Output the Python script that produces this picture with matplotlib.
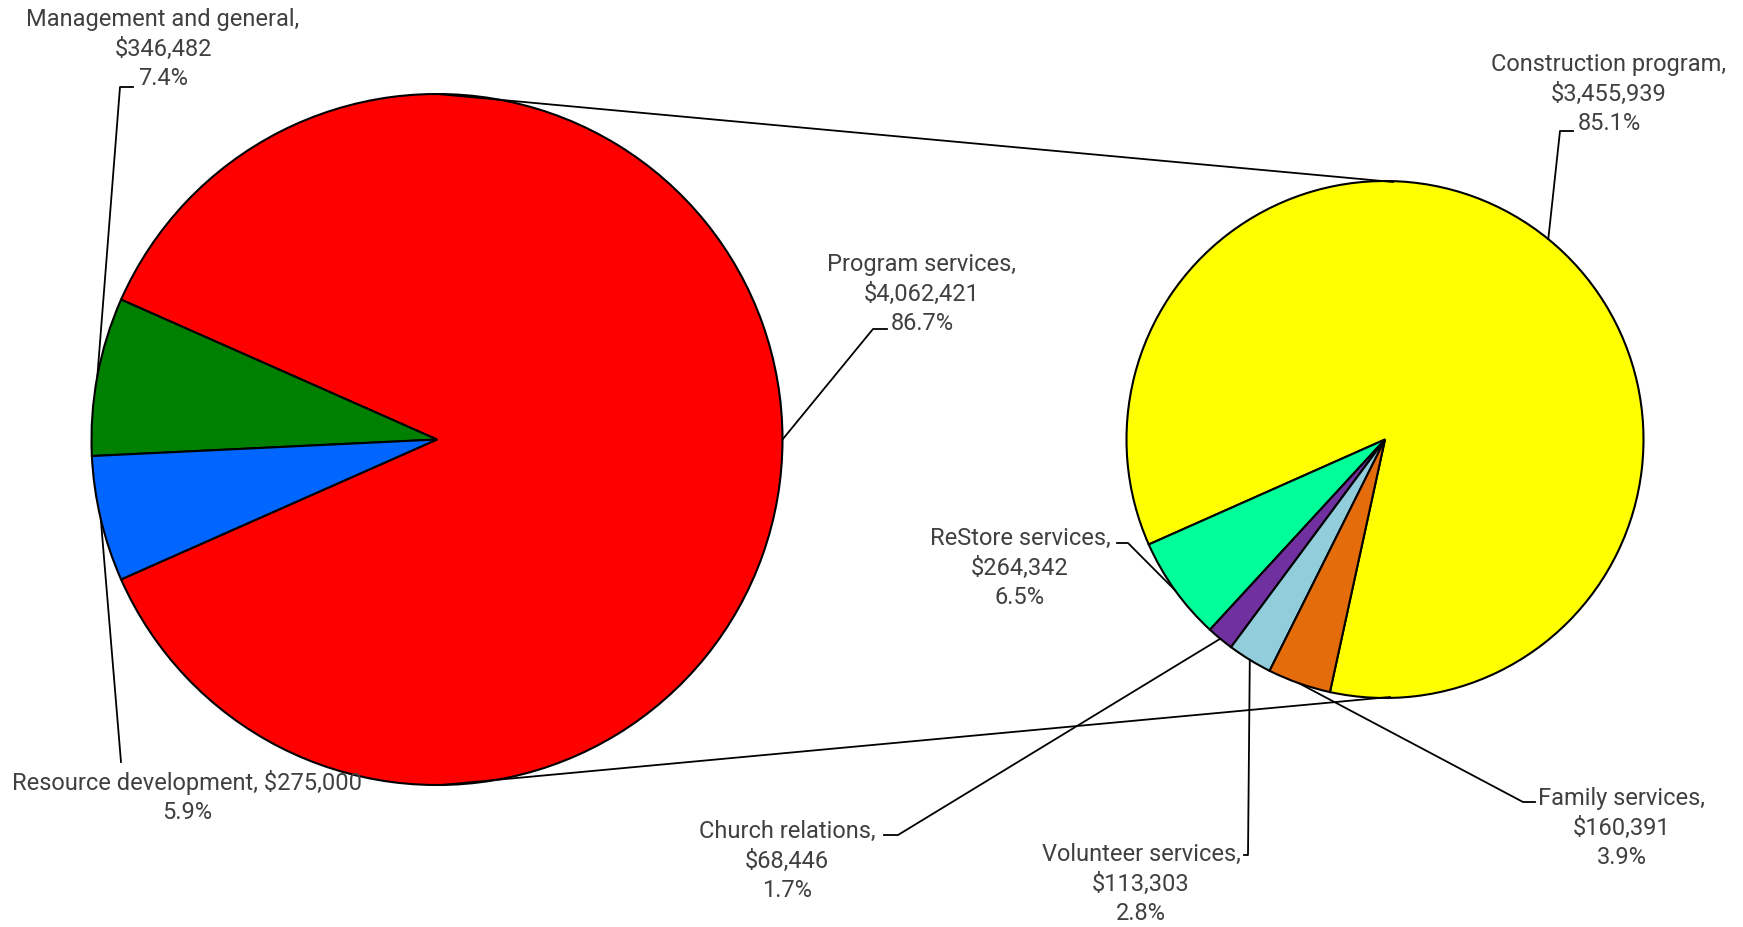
import numpy as np
import matplotlib.pyplot as plt

plt.rcParams["font.family"] = ["Roboto", "DejaVu Sans"]

# expenses, main split
main_labels = ["Program services", "Management and general", "Resource development"]
main_values = [4062421, 346482, 275000]
main_colors = ["#ff0000", "#008000", "#0066ff"]

# breakdown of program services
sub_labels = ["Construction program", "ReStore services", "Church relations",
              "Volunteer services", "Family services"]
sub_values = [3455939, 264342, 68446, 113303, 160391]
sub_colors = ["#ffff00", "#00ff99", "#7030a0", "#92cddc", "#e46c0a"]

W, H = 1743, 928
fig = plt.figure(figsize=(W / 100, H / 100), dpi=100)
ax = fig.add_axes([0, 0, 1, 1])

edge = dict(edgecolor="black", linewidth=1.5)
main_frac = np.array(main_values) / sum(main_values)
big_c, big_r = (437, 487.5), 345.5
small_c, small_r = (1385, 487.5), 258.5

w_main, _ = ax.pie(main_values, colors=main_colors, center=big_c, radius=big_r,
                   startangle=-main_frac[0] * 180, counterclock=True,
                   wedgeprops=edge, frame=True)
w_sub, _ = ax.pie(sub_values, colors=sub_colors, center=small_c, radius=small_r,
                  startangle=257.7, counterclock=True,
                  wedgeprops=edge, frame=True)

# connectors between the two pies
ax.plot([big_c[0], 1393], [big_c[1] + big_r, small_c[1] + small_r - 1], color="black", lw=1.3)
ax.plot([441, 1390], [big_c[1] - big_r, small_c[1] - small_r + 1], color="black", lw=1.3)


def edge_point(w):
    a = np.deg2rad((w.theta1 + w.theta2) / 2)
    return w.center[0] + w.r * np.cos(a), w.center[1] + w.r * np.sin(a)


def pct(v, tot):
    return f"{100 * v / tot:.1f}%"


def money(v):
    return f"${v:,}"


txt = dict(fontsize=17, color="#404040", ha="center", va="center", linespacing=1.38)
main_tot = sum(main_values)
sub_tot = sum(sub_values)

# label text position and leader elbow (two points) for each wedge
main_lab = [
    ((922, 634), [(873, 598), (887, 598)],
     f"{main_labels[0]},\n{money(main_values[0])}\n{pct(main_values[0], main_tot)}"),
    ((163, 879), [(120, 840), (133, 840)],
     f"{main_labels[1]},\n{money(main_values[1])}\n{pct(main_values[1], main_tot)}"),
    ((187, 131), [(121, 165), (121, 165)],
     f"{main_labels[2]}, {money(main_values[2])}\n{pct(main_values[2], main_tot)}"),
]
sub_lab = [
    ((1609, 834), [(1560, 796), (1573, 796)]),
    ((1020, 360), [(1128, 384), (1117, 384)]),
    ((787, 67), [(898, 92), (884, 92)]),
    ((1141, 44), [(1248, 72), (1244, 72)]),
    ((1622, 100), [(1523, 125), (1535, 125)]),
]

for w, (pos, elbow, s) in zip(w_main, main_lab):
    x0, y0 = edge_point(w)
    ax.plot([x0, elbow[0][0], elbow[1][0]], [y0, elbow[0][1], elbow[1][1]],
            color="black", lw=1.3, zorder=3)
    ax.text(pos[0], pos[1], s, **txt)

for w, (pos, elbow), name, v in zip(w_sub, sub_lab, sub_labels, sub_values):
    x0, y0 = edge_point(w)
    ax.plot([x0, elbow[0][0], elbow[1][0]], [y0, elbow[0][1], elbow[1][1]],
            color="black", lw=1.3, zorder=3)
    ax.text(pos[0], pos[1], f"{name},\n{money(v)}\n{pct(v, sub_tot)}", **txt)

ax.set_xlim(0, W)
ax.set_ylim(0, H)
ax.set_aspect("equal")
ax.axis("off")
fig.savefig("out.png", dpi=100, facecolor="white")
